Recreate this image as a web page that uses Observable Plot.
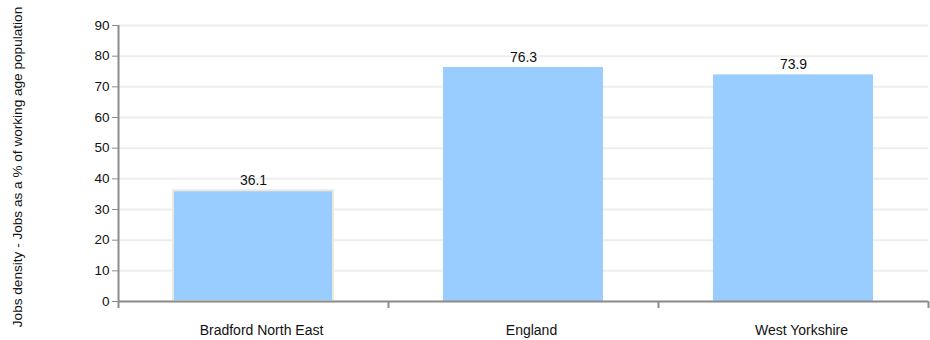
<!DOCTYPE html>
<html>
<head>
<meta charset="utf-8">
<script src="https://cdn.jsdelivr.net/npm/d3@7"></script>
<script src="https://cdn.jsdelivr.net/npm/@observablehq/plot@0.6"></script>
<style>
  html, body { margin: 0; padding: 0; background: #fff; }
  #chart { position: relative; width: 930px; height: 340px; overflow: hidden; }
  svg { font-family: "Liberation Sans", Arial, sans-serif; }
</style>
</head>
<body>
<div id="chart"></div>
<script>
const categories = ["Bradford North East", "England", "West Yorkshire"];
const values = [36.1, 76.3, 73.9];
const yTicks = [0, 10, 20, 30, 40, 50, 60, 70, 80, 90];
const yLabel = "Jobs density - Jobs as a % of working age population";

const data = categories.map((c, i) => ({category: c, value: values[i], highlight: i === 0}));

const W = 930, H = 340, mL = 118, mR = 2, mT = 25, mB = 39;
const step = (W - mL - mR) / categories.length;
const pInner = 0.407;

const chart = Plot.plot({
  width: W,
  height: H,
  marginLeft: mL,
  marginRight: mR,
  marginTop: mT,
  marginBottom: mB,
  style: {fontFamily: '"Liberation Sans", Arial, sans-serif', fontSize: "13px", color: "#000", background: "#fff"},
  x: {domain: categories, paddingInner: pInner, paddingOuter: pInner / 2, label: null},
  y: {domain: [0, 90], label: null},
  marks: [
    Plot.gridY(yTicks, {stroke: "#eeeeee", strokeOpacity: 1, strokeWidth: 2}),
    Plot.barY(data, {
      x: "category", y: "value", fill: "#99ccff",
      stroke: d => d.highlight ? "#ebe8dc" : "none", strokeWidth: 2
    }),
    Plot.text(data, {
      x: "category", y: "value", text: d => d.value.toFixed(1),
      lineAnchor: "bottom", dy: -6, fill: "#111", fontSize: 14
    }),
    // left axis line
    Plot.ruleX([categories[0]], {x: d => d, y1: yTicks[0], y2: yTicks[yTicks.length - 1], dx: -step / 2, stroke: "#8c8c8c", strokeWidth: 2}),
    // bottom axis line
    Plot.ruleY([0], {stroke: "#8c8c8c", strokeWidth: 2}),
    Plot.axisY({ticks: yTicks, tickSize: 6, tickPadding: 3, stroke: "#8c8c8c", fill: "#111", fontSize: 13.5, label: null}),
    Plot.axisX({ticks: categories, tickSize: 7, text: null, dx: -step / 2, stroke: "#8c8c8c", strokeWidth: 2, label: null}),
    Plot.axisX({ticks: [categories[categories.length - 1]], tickSize: 7, text: null, dx: step / 2, stroke: "#8c8c8c", strokeWidth: 2, label: null}),
    Plot.axisX({ticks: categories, tickSize: 0, tickPadding: 24, dx: 8, fill: "#111", fontSize: 14, label: null})
  ]
});

document.getElementById("chart").appendChild(chart);

// rotated y-axis title
const svg = d3.select(chart);
svg.append("text")
  .attr("transform", `translate(${18},${167}) rotate(-90)`)
  .attr("text-anchor", "middle")
  .attr("dominant-baseline", "middle")
  .attr("font-size", 13.6)
  .attr("fill", "#111")
  .text(yLabel);
</script>
</body>
</html>
